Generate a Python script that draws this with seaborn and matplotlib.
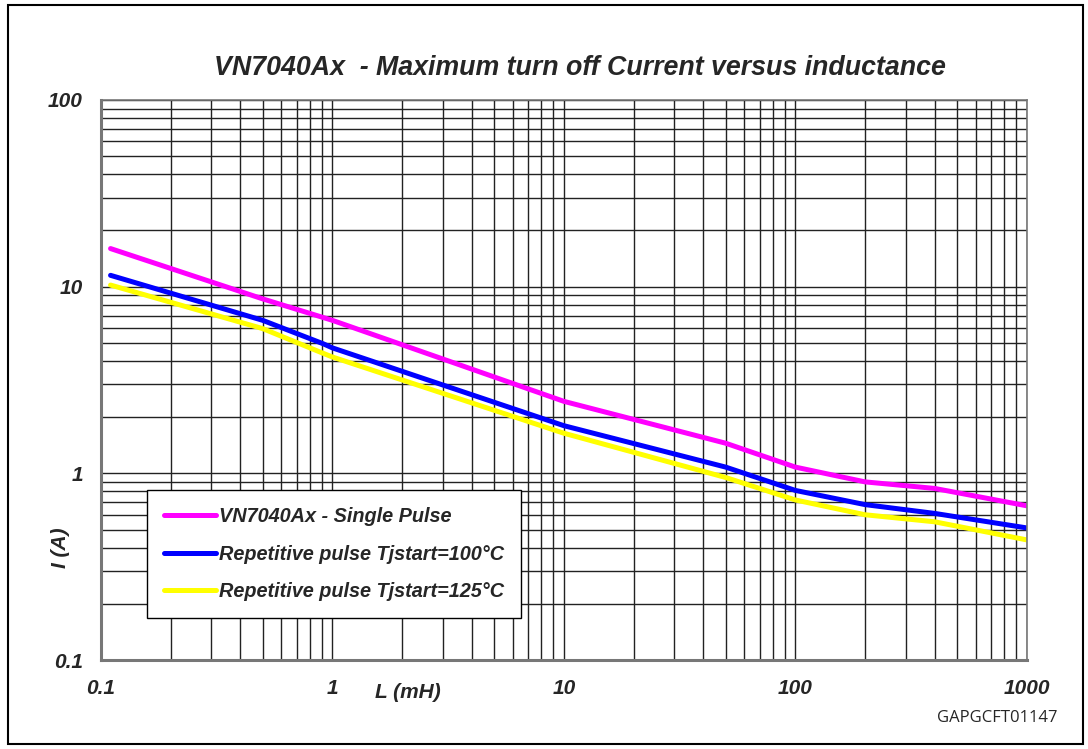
import numpy as np
import pandas as pd
import matplotlib
matplotlib.use("Agg")
import matplotlib.pyplot as plt
import seaborn as sns
from matplotlib.ticker import LogLocator, FixedLocator, FixedFormatter, NullFormatter

# values
L_mH = [0.11, 0.5, 1, 10, 50, 100, 200, 400, 1000]
single_pulse = [16.0, 8.6, 6.6, 2.43, 1.45, 1.08, 0.90, 0.83, 0.67]
L_rep = [0.11, 0.5, 0.91, 1, 10, 50, 100, 200, 400, 1000]
rep_100 = [11.5, 6.6, 4.95, 4.7, 1.8, 1.08, 0.81, 0.68, 0.61, 0.51]
rep_125 = [10.2, 5.96, 4.4, 4.2, 1.64, 0.95, 0.72, 0.60, 0.55, 0.44]

labels = ["VN7040Ax - Single Pulse",
          "Repetitive pulse Tjstart=100\u00b0C",
          "Repetitive pulse Tjstart=125\u00b0C"]
colors = ["#ff00ff", "#0000ff", "#ffff00"]

df = pd.concat([
    pd.DataFrame({"L": L_mH, "I": single_pulse, "series": labels[0]}),
    pd.DataFrame({"L": L_rep, "I": rep_100, "series": labels[1]}),
    pd.DataFrame({"L": L_rep, "I": rep_125, "series": labels[2]}),
])

sns.set_style("white")
plt.rcParams['font.family'] = ['Liberation Sans', 'DejaVu Sans']

fig = plt.figure(figsize=(10.88, 7.49), dpi=100)
ax = fig.add_axes([0.0928, 0.1188, 0.851, 0.7477])

sns.lineplot(data=df, x="L", y="I", hue="series", palette=colors,
             hue_order=labels, lw=3.6, ax=ax, sort=False, legend=True)

ax.set_xscale("log")
ax.set_yscale("log")
ax.set_xlim(0.1, 1000)
ax.set_ylim(0.1, 100)

# grid: major + minor
ax.xaxis.set_major_locator(FixedLocator([0.1, 1, 10, 100, 1000]))
ax.xaxis.set_major_formatter(FixedFormatter(["0.1", "1", "10", "100", "1000"]))
ax.yaxis.set_major_locator(FixedLocator([0.1, 1, 10, 100]))
ax.yaxis.set_major_formatter(FixedFormatter(["0.1", "1", "10", "100"]))
ax.xaxis.set_minor_locator(LogLocator(base=10, subs=np.arange(2, 10), numticks=20))
ax.yaxis.set_minor_locator(LogLocator(base=10, subs=np.arange(2, 10), numticks=20))
ax.xaxis.set_minor_formatter(NullFormatter())
ax.yaxis.set_minor_formatter(NullFormatter())
ax.grid(True, which="both", color="#222222", lw=1.0)
ax.set_axisbelow(True)
ax.tick_params(which="major", direction="out", length=7, width=1.2, color="#777777",
               labelsize=15)
ax.tick_params(axis="x", which="major", pad=7)
ax.tick_params(axis="y", which="major", pad=6)
ax.tick_params(which="minor", length=0)
for lab in ax.get_xticklabels() + ax.get_yticklabels():
    lab.set_fontweight("bold")
    lab.set_fontstyle("italic")
for side in ["left", "bottom"]:
    ax.spines[side].set_color("#777777")
    ax.spines[side].set_linewidth(2.2)
for side in ["top", "right"]:
    ax.spines[side].set_color("#777777")
    ax.spines[side].set_linewidth(1.2)

ax.set_xlabel("")
ax.set_ylabel("I (A)", fontsize=15, fontweight="bold", fontstyle="italic")
ax.yaxis.set_label_coords(-0.033, 0.2)
fig.text(0.345, 0.076, "L (mH)", fontsize=15, fontweight="bold", fontstyle="italic",
         ha="left", va="center")

fig.text(0.533, 0.909, "VN7040Ax  - Maximum turn off Current versus inductance",
         fontsize=19.3, fontweight="bold", fontstyle="italic", ha="center", va="center")
fig.text(0.972, 0.041, "GAPGCFT01147", fontsize=12, family=["Open Sans", "DejaVu Sans"],
         ha="right", va="center")

leg = ax.legend(loc="upper left", bbox_to_anchor=(0.05, 0.304), frameon=True,
                fancybox=False, edgecolor="black", framealpha=1,
                handlelength=2.6, handletextpad=0.15, labelspacing=0.95,
                borderpad=0.85, borderaxespad=0,
                prop={"size": 14.3, "weight": "bold", "style": "italic"})
leg.get_frame().set_linewidth(1.0)
for h in leg.legend_handles:
    h.set_linewidth(3.6)

# outer frame around the whole figure
fig.patches.append(plt.Rectangle((0.007, 0.007), 0.988, 0.986, transform=fig.transFigure,
                                 fill=False, edgecolor="black", lw=1.5))

fig.savefig("out.png", dpi=100)
